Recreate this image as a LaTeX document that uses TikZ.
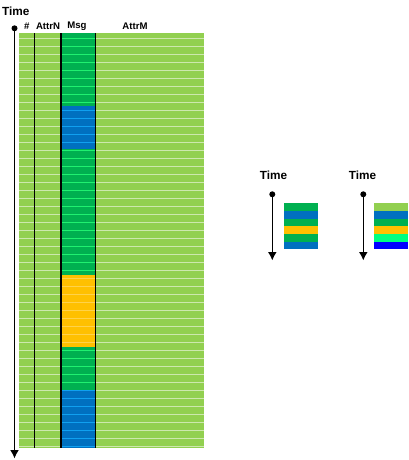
\documentclass[tikz,border=0pt]{standalone}
\usepackage{fontspec}
\setmainfont{Liberation Sans}
\usepackage{tikz}
\usetikzlibrary{arrows.meta}
\definecolor{lgreen}{HTML}{92D050}
\definecolor{mgreen}{HTML}{00B050}
\definecolor{mblue}{HTML}{0070C0}
\definecolor{myellow}{HTML}{FFC000}
\definecolor{spring}{HTML}{00FF80}
\definecolor{pureblue}{HTML}{0000FF}
\definecolor{greenline}{HTML}{20F070}
\definecolor{blueline}{HTML}{10A0F0}
\definecolor{yellowline}{HTML}{FFD24A}
\definecolor{bgline}{HTML}{CDE8AE}
\tikzset{
  lbl/.style={font=\bfseries\fontsize{9.6}{11}\selectfont,inner sep=0pt},
  timelbl/.style={font=\bfseries\fontsize{11.8}{13}\selectfont,inner sep=0pt},
  timeaxis/.style={-{Latex[length=8.5pt,width=9pt]},line width=1.6pt},
  sepline/.style={line width=0.9pt}
}

\begin{document}
\begin{tikzpicture}[x=1pt,y=-1pt,>=Latex]
\useasboundingbox (0,0) rectangle (409,460);
% big table
\fill[lgreen] (19,33.3) rectangle (204,447.7);
\foreach \k in {0,...,51}
  \draw[bgline,sepline] (19,38.3+8*\k) -- (204,38.3+8*\k);
% message column, one block per run of messages
\foreach \ya/\yb/\cf/\cl in {33.3/106/mgreen/greenline,106/149.3/mblue/blueline,
  149.3/275/mgreen/greenline,275/347.3/myellow/yellowline,
  347.3/390.7/mgreen/greenline,390.7/447.7/mblue/blueline}{
  \fill[\cf] (61,\ya) rectangle (95.7,\yb);
  \begin{scope}
    \clip (61,\ya) rectangle (95.7,\yb);
    \foreach \k in {0,...,51}
      \draw[\cl,sepline] (61,38.3+8*\k) -- (95.7,38.3+8*\k);
  \end{scope}
}
\draw[line width=1pt] (34.3,33.3) -- (34.3,447.7);
\draw[line width=1.3pt] (61,33.3) -- (61,447.7);
\draw[line width=1.3pt] (95.7,33.3) -- (95.7,447.7);
% headers
\node[lbl] (hnum) at (26.7,26) {\#};
\node[lbl] (hattrn) at (48,26) {AttrN};
\node[lbl] (hmsg) at (77,26) {Msg};
\node[lbl] (hattrm) at (135,26) {AttrM};
% time axis of the table
\node[timelbl] (time0) at (15.8,11.5) {Time};
\coordinate (t0a) at (14.5,28.3);
\coordinate (t0b) at (14.5,458.5);
\draw[timeaxis] (t0a) -- (t0b);
\fill (t0a) circle (3pt);
% first small stream
\node[timelbl] (time1) at (273.5,175.5) {Time};
\coordinate (t1a) at (272.3,194.3);
\coordinate (t1b) at (272.3,260.5);
\draw[timeaxis] (t1a) -- (t1b);
\fill (t1a) circle (3pt);
\foreach \c [count=\i from 0] in {mgreen,mblue,mgreen,myellow,mgreen,mblue}
  \fill[\c] (284.3,203.3+7.67*\i) rectangle (318.3,211+7.67*\i);
% second small stream
\node[timelbl] (time2) at (362.5,175.5) {Time};
\coordinate (t2a) at (363.3,194.3);
\coordinate (t2b) at (363.3,260.5);
\draw[timeaxis] (t2a) -- (t2b);
\fill (t2a) circle (3pt);
\foreach \c [count=\i from 0] in {lgreen,mblue,mgreen,myellow,spring,pureblue}
  \fill[\c] (374.3,203.3+7.67*\i) rectangle (408.3,211+7.67*\i);
\end{tikzpicture}
\end{document}
